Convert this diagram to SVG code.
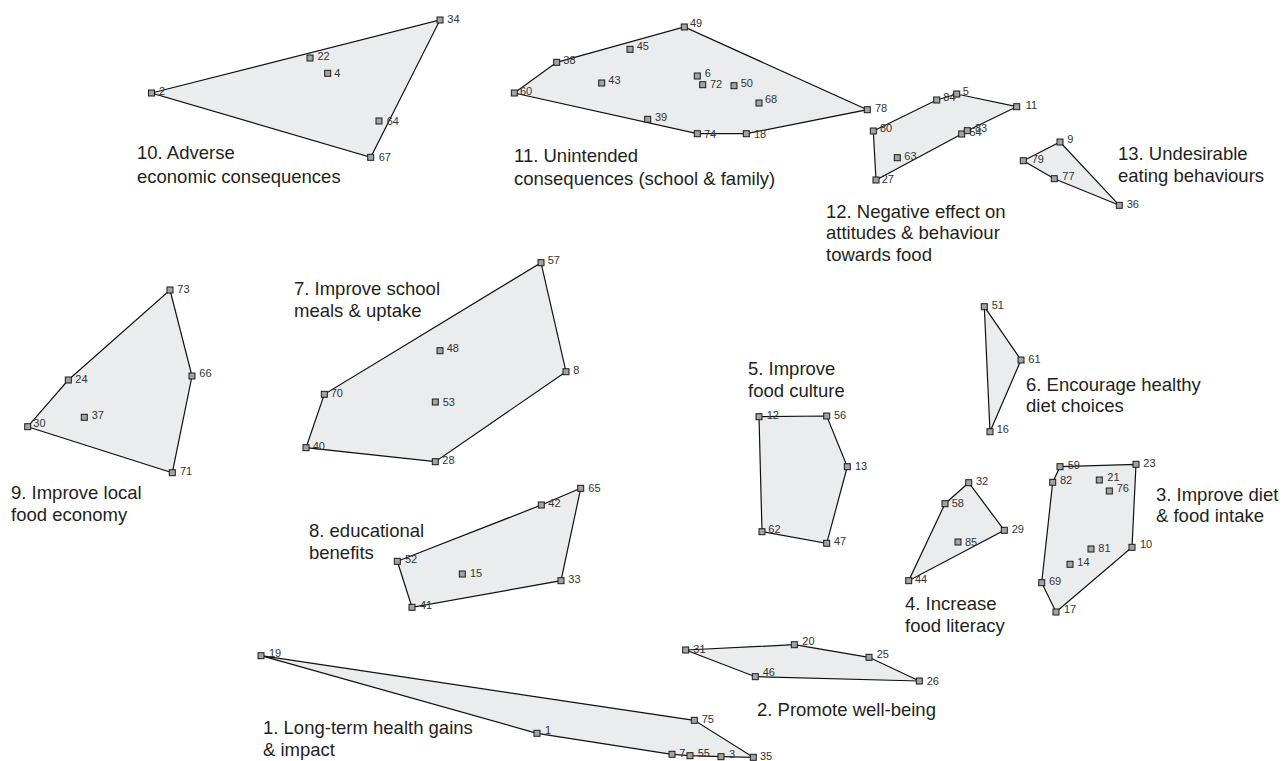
<svg xmlns="http://www.w3.org/2000/svg" xmlns:xlink="http://www.w3.org/1999/xlink" width="1282" height="761" viewBox="0 0 1282 761">
<style>
.hull{fill:#ebecee;stroke:#111;stroke-width:1.2;stroke-linejoin:miter}
.sq{fill:#a3a3a3;stroke:#1a1a1a;stroke-width:1}
.n{font-family:"Liberation Sans",Arial,sans-serif;font-size:11px;fill:#333}
.lab{font-family:"Liberation Sans",Arial,sans-serif;font-size:18.5px;fill:#231f20}
</style>
<defs>
<rect id="p" class="sq" x="-3" y="-3" width="6" height="6"/>
</defs>
<rect width="1282" height="761" fill="#fff"/>
<g id="connectors"></g>

<g id="c10">
<polygon class="hull" points="151.5,93 440,20 370.7,157.3"/>
<use xlink:href="#p" href="#p" x="151.5" y="93"/><text class="n" x="159" y="95">2</text>
<use xlink:href="#p" href="#p" x="310" y="58"/><text class="n" x="317.5" y="59.5">22</text>
<use xlink:href="#p" href="#p" x="327.7" y="73.3"/><text class="n" x="334.3" y="76.8">4</text>
<use xlink:href="#p" href="#p" x="440" y="20"/><text class="n" x="447.3" y="23">34</text>
<use xlink:href="#p" href="#p" x="379" y="121"/><text class="n" x="386.7" y="124.5">64</text>
<use xlink:href="#p" href="#p" x="370.7" y="157.3"/><text class="n" x="378.7" y="160.8">67</text>
<text class="lab" x="137" y="159">10. Adverse</text>
<text class="lab" x="137" y="183">economic consequences</text>
</g>

<g id="c11">
<polygon class="hull" points="514.3,93 556.7,62.3 684.3,27 867.3,109.7 746.3,133.7 697.3,133.7"/>
<use xlink:href="#p" href="#p" x="684.3" y="27"/><text class="n" x="690" y="27">49</text>
<use xlink:href="#p" href="#p" x="630" y="49.3"/><text class="n" x="636.7" y="50">45</text>
<use xlink:href="#p" href="#p" x="556.7" y="62.3"/><text class="n" x="563.3" y="64.3">38</text>
<use xlink:href="#p" href="#p" x="601.7" y="83"/><text class="n" x="608.3" y="84.3">43</text>
<use xlink:href="#p" href="#p" x="514.3" y="93"/><text class="n" x="520" y="95">60</text>
<use xlink:href="#p" href="#p" x="697.3" y="76"/><text class="n" x="704.7" y="76.7">6</text>
<use xlink:href="#p" href="#p" x="702.7" y="84.7"/><text class="n" x="710" y="88.3">72</text>
<use xlink:href="#p" href="#p" x="734" y="85.7"/><text class="n" x="740.7" y="86.7">50</text>
<use xlink:href="#p" href="#p" x="759" y="103"/><text class="n" x="765" y="103.3">68</text>
<use xlink:href="#p" href="#p" x="647.7" y="119.3"/><text class="n" x="655" y="121">39</text>
<use xlink:href="#p" href="#p" x="697.3" y="133.7"/><text class="n" x="704" y="137.7">74</text>
<use xlink:href="#p" href="#p" x="746.3" y="133.7"/><text class="n" x="754" y="137.7">18</text>
<use xlink:href="#p" href="#p" x="867.3" y="109.7"/><text class="n" x="875" y="111.7">78</text>
<text class="lab" x="514" y="162">11. Unintended</text>
<text class="lab" x="514" y="185">consequences (school &amp; family)</text>
</g>

<g id="c12">
<polygon class="hull" points="873.3,131 936.7,100 956.7,94 1016.7,106.7 967.3,130.7 961.7,134 876,180"/>
<use xlink:href="#p" href="#p" x="936.7" y="100"/><text class="n" x="943.3" y="100.7">84</text>
<use xlink:href="#p" href="#p" x="956.7" y="94"/><text class="n" x="962.7" y="95">5</text>
<use xlink:href="#p" href="#p" x="1016.7" y="106.7"/><text class="n" x="1025.7" y="109.3">11</text>
<use xlink:href="#p" href="#p" x="873.3" y="131"/><text class="n" x="880" y="131.7">80</text>
<use xlink:href="#p" href="#p" x="897.3" y="157.7"/><text class="n" x="904.3" y="160">63</text>
<use xlink:href="#p" href="#p" x="876" y="180"/><text class="n" x="881.7" y="183.3">27</text>
<use xlink:href="#p" href="#p" x="961.7" y="134"/><text class="n" x="969.5" y="136">54</text>
<use xlink:href="#p" href="#p" x="967.3" y="130.7"/><text class="n" x="975" y="131.7">83</text>
<text class="lab" x="826" y="217.5">12. Negative effect on</text>
<text class="lab" x="826" y="239">attitudes &amp; behaviour</text>
<text class="lab" x="826" y="260.5">towards food</text>
</g>

<g id="c13">
<polygon class="hull" points="1060,142 1119.3,205.3 1054.3,178.7 1023.3,160.7"/>
<use xlink:href="#p" href="#p" x="1060" y="142"/><text class="n" x="1067.3" y="143">9</text>
<use xlink:href="#p" href="#p" x="1023.3" y="160.7"/><text class="n" x="1031.7" y="163.3">79</text>
<use xlink:href="#p" href="#p" x="1054.3" y="178.7"/><text class="n" x="1062.3" y="180">77</text>
<use xlink:href="#p" href="#p" x="1119.3" y="205.3"/><text class="n" x="1126.7" y="208.3">36</text>
<text class="lab" x="1118" y="160">13. Undesirable</text>
<text class="lab" x="1118" y="181.5">eating behaviours</text>
</g>

<g id="c9">
<polygon class="hull" points="170,290 192,376 172.3,472.7 27.7,426.7 68.3,380"/>
<use xlink:href="#p" href="#p" x="170" y="290"/><text class="n" x="177.3" y="292.7">73</text>
<use xlink:href="#p" href="#p" x="68.3" y="380"/><text class="n" x="75.3" y="382.7">24</text>
<use xlink:href="#p" href="#p" x="84.3" y="417.3"/><text class="n" x="91.7" y="419.3">37</text>
<use xlink:href="#p" href="#p" x="27.7" y="426.7"/><text class="n" x="33.3" y="427.3">30</text>
<use xlink:href="#p" href="#p" x="192" y="376"/><text class="n" x="199.3" y="376.7">66</text>
<use xlink:href="#p" href="#p" x="172.3" y="472.7"/><text class="n" x="180" y="475">71</text>
<text class="lab" x="11" y="499">9. Improve local</text>
<text class="lab" x="11" y="521">food economy</text>
</g>

<g id="c7">
<polygon class="hull" points="541,262.7 566,371.7 435.3,461.7 306,447.7 324.3,394.3"/>
<use xlink:href="#p" href="#p" x="541" y="262.7"/><text class="n" x="547.7" y="264.3">57</text>
<use xlink:href="#p" href="#p" x="440" y="350.7"/><text class="n" x="446.7" y="351.7">48</text>
<use xlink:href="#p" href="#p" x="566" y="371.7"/><text class="n" x="573.3" y="374.3">8</text>
<use xlink:href="#p" href="#p" x="324.3" y="394.3"/><text class="n" x="330.7" y="396.7">70</text>
<use xlink:href="#p" href="#p" x="435.3" y="402"/><text class="n" x="442.7" y="405.7">53</text>
<use xlink:href="#p" href="#p" x="306" y="447.7"/><text class="n" x="312.7" y="450">40</text>
<use xlink:href="#p" href="#p" x="435.3" y="461.7"/><text class="n" x="442.3" y="464.3">28</text>
<text class="lab" x="294" y="295">7. Improve school</text>
<text class="lab" x="294" y="317">meals &amp; uptake</text>
</g>

<g id="c8">
<polygon class="hull" points="580.7,488.3 561,580.7 412,607.3 397.3,561.3 541.3,505"/>
<use xlink:href="#p" href="#p" x="580.7" y="488.3"/><text class="n" x="588.3" y="491.7">65</text>
<use xlink:href="#p" href="#p" x="541.3" y="505"/><text class="n" x="548.3" y="507.3">42</text>
<use xlink:href="#p" href="#p" x="397.3" y="561.3"/><text class="n" x="405" y="563.3">52</text>
<use xlink:href="#p" href="#p" x="462.3" y="574"/><text class="n" x="470" y="576.7">15</text>
<use xlink:href="#p" href="#p" x="561" y="580.7"/><text class="n" x="568.3" y="583.3">33</text>
<use xlink:href="#p" href="#p" x="412" y="607.3"/><text class="n" x="420" y="609.3">41</text>
<text class="lab" x="309" y="537">8. educational</text>
<text class="lab" x="309" y="558.5">benefits</text>
</g>

<g id="c5">
<polygon class="hull" points="759,416.7 826.7,416 847.3,466.7 826.7,543.3 762,531.7"/>
<use xlink:href="#p" href="#p" x="759" y="416.7"/><text class="n" x="766.7" y="419.3">12</text>
<use xlink:href="#p" href="#p" x="826.7" y="416"/><text class="n" x="834" y="419.3">56</text>
<use xlink:href="#p" href="#p" x="847.3" y="466.7"/><text class="n" x="855" y="470">13</text>
<use xlink:href="#p" href="#p" x="762" y="531.7"/><text class="n" x="768.3" y="532.7">62</text>
<use xlink:href="#p" href="#p" x="826.7" y="543.3"/><text class="n" x="834" y="545">47</text>
<text class="lab" x="748" y="375">5. Improve</text>
<text class="lab" x="748" y="397">food culture</text>
</g>

<g id="c6">
<polygon class="hull" points="984.3,306.7 1021,360 990,431.7"/>
<use xlink:href="#p" href="#p" x="984.3" y="306.7"/><text class="n" x="991.7" y="309.3">51</text>
<use xlink:href="#p" href="#p" x="1021" y="360"/><text class="n" x="1028.3" y="363.3">61</text>
<use xlink:href="#p" href="#p" x="990" y="431.7"/><text class="n" x="996.7" y="433.3">16</text>
<text class="lab" x="1026" y="390.5">6. Encourage healthy</text>
<text class="lab" x="1026" y="412">diet choices</text>
</g>

<g id="c4">
<polygon class="hull" points="968.7,482.7 1004.3,530.3 908.7,580.7 945,503.7"/>
<use xlink:href="#p" href="#p" x="968.7" y="482.7"/><text class="n" x="976" y="485">32</text>
<use xlink:href="#p" href="#p" x="945" y="503.7"/><text class="n" x="951.7" y="506.7">58</text>
<use xlink:href="#p" href="#p" x="1004.3" y="530.3"/><text class="n" x="1011.7" y="532.7">29</text>
<use xlink:href="#p" href="#p" x="958" y="542"/><text class="n" x="965" y="546">85</text>
<use xlink:href="#p" href="#p" x="908.7" y="580.7"/><text class="n" x="915" y="583.3">44</text>
<text class="lab" x="905" y="610">4. Increase</text>
<text class="lab" x="905" y="632">food literacy</text>
</g>

<g id="c3">
<polygon class="hull" points="1060,466.7 1136,464.3 1132,547.3 1056,612 1041.7,582.7 1052.7,482.3"/>
<use xlink:href="#p" href="#p" x="1060" y="466.7"/><text class="n" x="1067.7" y="469.3">59</text>
<use xlink:href="#p" href="#p" x="1136" y="464.3"/><text class="n" x="1143.3" y="467.3">23</text>
<use xlink:href="#p" href="#p" x="1052.7" y="482.3"/><text class="n" x="1060" y="484.3">82</text>
<use xlink:href="#p" href="#p" x="1099.3" y="480"/><text class="n" x="1107.3" y="481">21</text>
<use xlink:href="#p" href="#p" x="1109.3" y="491"/><text class="n" x="1116.7" y="491.7">76</text>
<use xlink:href="#p" href="#p" x="1132" y="547.3"/><text class="n" x="1140" y="548.3">10</text>
<use xlink:href="#p" href="#p" x="1091" y="549"/><text class="n" x="1098.3" y="551.7">81</text>
<use xlink:href="#p" href="#p" x="1070" y="564.3"/><text class="n" x="1077.3" y="565.7">14</text>
<use xlink:href="#p" href="#p" x="1041.7" y="582.7"/><text class="n" x="1049" y="585">69</text>
<use xlink:href="#p" href="#p" x="1056" y="612"/><text class="n" x="1064" y="613.3">17</text>
<text class="lab" x="1156" y="500.5">3. Improve diet</text>
<text class="lab" x="1156" y="522">&amp; food intake</text>
</g>

<g id="c2">
<polygon class="hull" points="685.7,650 794.3,644.7 869,657.3 919.3,681 755.3,676.7"/>
<use xlink:href="#p" href="#p" x="685.7" y="650"/><text class="n" x="693.3" y="652.7">31</text>
<use xlink:href="#p" href="#p" x="794.3" y="644.7"/><text class="n" x="802.3" y="645">20</text>
<use xlink:href="#p" href="#p" x="869" y="657.3"/><text class="n" x="876.7" y="657.7">25</text>
<use xlink:href="#p" href="#p" x="919.3" y="681"/><text class="n" x="926.7" y="685">26</text>
<use xlink:href="#p" href="#p" x="755.3" y="676.7"/><text class="n" x="762.7" y="676">46</text>
<text class="lab" x="757" y="716">2. Promote well-being</text>
</g>

<g id="c1">
<polygon class="hull" points="261,655.7 694.3,720.3 753.3,757.3 721,756.7 690,755.7 672,754.3 537,733.3"/>
<use xlink:href="#p" href="#p" x="261" y="655.7"/><text class="n" x="269" y="657.3">19</text>
<use xlink:href="#p" href="#p" x="694.3" y="720.3"/><text class="n" x="701.7" y="722.7">75</text>
<use xlink:href="#p" href="#p" x="537" y="733.3"/><text class="n" x="545" y="734.3">1</text>
<use xlink:href="#p" href="#p" x="672" y="754.3"/><text class="n" x="679.3" y="757.3">7</text>
<use xlink:href="#p" href="#p" x="690" y="755.7"/><text class="n" x="697.7" y="757.3">55</text>
<use xlink:href="#p" href="#p" x="721" y="756.7"/><text class="n" x="729" y="758.3">3</text>
<use xlink:href="#p" href="#p" x="753.3" y="757.3"/><text class="n" x="760" y="760">35</text>
<text class="lab" x="263" y="734">1. Long-term health gains</text>
<text class="lab" x="263" y="756">&amp; impact</text>
</g>
</svg>
